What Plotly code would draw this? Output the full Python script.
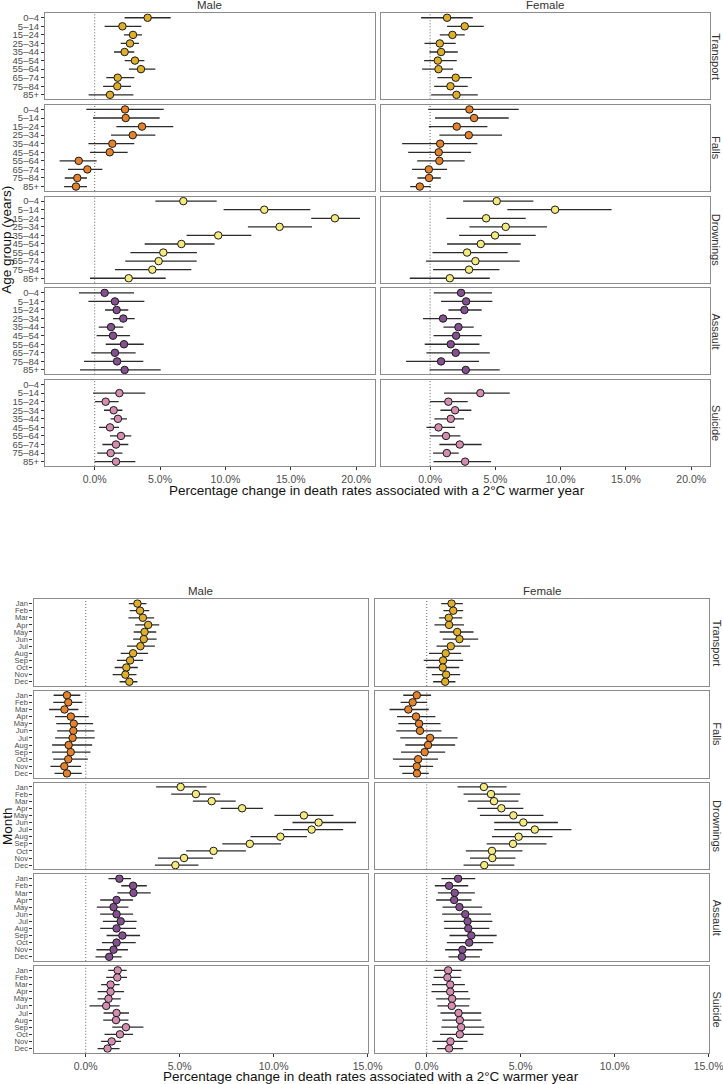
import plotly.graph_objects as go

# ---------------- DATA ----------------
AGE_GROUPS = ["0–4", "5–14", "15–24", "25–34", "35–44", "45–54", "55–64", "65–74", "75–84", "85+"]
MONTHS = ["Jan", "Feb", "Mar", "Apr", "May", "Jun", "Jul", "Aug", "Sep", "Oct", "Nov", "Dec"]
CAUSES = ["Transport", "Falls", "Drownings", "Assault", "Suicide"]
SEXES = ["Male", "Female"]
CAUSE_COLORS = ["#DFAE2B", "#E5822C", "#F5EA7E", "#85508F", "#D68DB2"]

TOP_X_TICKS = [0, 5, 10, 15, 20]
BOTTOM_X_TICKS = [0, 5, 10, 15]

# ---- Age group, male ----
age_m_transport_est = [4.05, 2.12, 2.93, 2.70, 2.29, 3.08, 3.54, 1.76, 1.73, 1.17]
age_m_transport_lo = [2.29, 0.76, 2.24, 1.99, 1.48, 2.29, 2.62, 0.89, 0.64, -0.46]
age_m_transport_hi = [5.81, 3.57, 3.62, 3.39, 3.03, 3.80, 4.64, 3.03, 2.78, 2.96]

age_m_falls_est = [2.32, 2.37, 3.62, 2.91, 1.35, 1.15, -1.22, -0.56, -1.33, -1.43]
age_m_falls_lo = [-0.64, -0.13, 1.66, 1.25, -0.48, -0.36, -2.68, -2.04, -2.29, -2.34]
age_m_falls_hi = [5.28, 4.97, 6.01, 4.64, 3.03, 2.52, 0.15, 0.59, -0.59, -0.59]

age_m_drown_est = [6.78, 12.97, 18.37, 14.14, 9.45, 6.63, 5.25, 4.89, 4.41, 2.60]
age_m_drown_lo = [4.64, 9.86, 16.56, 11.72, 7.03, 3.82, 2.73, 2.34, 1.55, -0.36]
age_m_drown_hi = [9.33, 16.49, 20.29, 16.62, 11.98, 9.17, 7.82, 7.80, 7.39, 5.43]

age_m_assault_est = [0.76, 1.55, 1.68, 2.19, 1.25, 1.40, 2.24, 1.55, 1.71, 2.29]
age_m_assault_lo = [-1.20, -0.48, 0.79, 1.40, 0.31, 0.15, 0.84, -0.25, -0.82, -1.12]
age_m_assault_hi = [3.01, 3.80, 2.57, 3.06, 2.19, 2.70, 3.75, 3.13, 3.72, 5.05]

age_m_suicide_est = [None, 1.89, 0.84, 1.45, 1.78, 1.17, 2.01, 1.63, 1.22, 1.63]
age_m_suicide_lo = [None, -0.13, 0.03, 0.71, 1.22, 0.33, 1.17, 0.59, 0.20, 0.00]
age_m_suicide_hi = [None, 3.87, 1.83, 2.12, 2.47, 1.86, 2.80, 2.57, 2.12, 3.11]

# ---- Age group, female ----
age_f_transport_est = [1.30, 2.65, 1.71, 0.74, 0.84, 0.59, 0.64, 1.96, 1.56, 2.02]
age_f_transport_lo = [-0.69, 1.30, 0.74, -0.43, -0.05, -0.46, -0.61, 0.56, 0.31, 0.08]
age_f_transport_hi = [3.27, 4.11, 2.65, 1.96, 2.12, 2.04, 1.76, 3.19, 2.88, 3.65]

age_f_falls_est = [3.01, 3.37, 2.04, 2.96, 0.77, 0.66, 0.71, -0.10, -0.08, -0.79]
age_f_falls_lo = [-0.15, 0.38, -0.10, 0.71, -2.14, -1.68, -0.99, -1.38, -0.97, -1.53]
age_f_falls_hi = [6.79, 6.02, 4.39, 5.51, 3.62, 3.14, 2.65, 1.30, 0.82, 0.05]

age_f_drown_est = [5.10, 9.57, 4.29, 5.79, 4.97, 3.88, 2.83, 3.47, 2.98, 1.51]
age_f_drown_lo = [2.53, 5.92, 1.25, 3.01, 2.22, 1.30, 0.18, -0.31, 0.23, -1.56]
age_f_drown_hi = [7.91, 13.90, 7.32, 8.95, 8.09, 6.94, 5.94, 6.86, 5.31, 4.57]

age_f_assault_est = [2.37, 2.76, 2.63, 0.99, 2.17, 1.99, 1.58, 1.96, 0.84, 2.73]
age_f_assault_lo = [0.28, 0.84, 1.40, -0.54, 1.02, 0.26, -0.41, -0.28, -1.84, -0.03]
age_f_assault_hi = [4.74, 4.77, 3.95, 2.40, 3.34, 3.95, 3.78, 4.57, 3.75, 5.33]

age_f_suicide_est = [None, 3.85, 1.40, 1.91, 1.58, 0.64, 1.22, 2.27, 1.28, 2.68]
age_f_suicide_lo = [None, 1.07, 0.00, 0.79, 0.33, -0.28, 0.00, 0.71, 0.23, 0.26]
age_f_suicide_hi = [None, 6.10, 2.88, 3.16, 2.60, 1.91, 2.32, 3.95, 2.19, 4.67]

# ---- Month, male ----
mon_m_transport_est = [2.75, 2.89, 3.04, 3.32, 3.13, 3.09, 2.91, 2.52, 2.36, 2.16, 2.11, 2.32]
mon_m_transport_lo = [2.29, 2.34, 2.27, 2.63, 2.55, 2.52, 2.20, 1.86, 1.66, 1.54, 1.43, 1.80]
mon_m_transport_hi = [3.23, 3.38, 3.64, 3.91, 3.75, 3.77, 3.68, 3.32, 3.05, 2.77, 2.70, 2.75]

mon_m_falls_est = [-1.00, -0.93, -1.13, -0.79, -0.64, -0.66, -0.70, -0.91, -0.80, -0.93, -1.14, -1.00]
mon_m_falls_lo = [-1.71, -1.73, -1.95, -1.63, -1.57, -1.52, -1.63, -1.79, -1.79, -1.73, -1.88, -1.66]
mon_m_falls_hi = [-0.29, -0.18, -0.39, 0.16, 0.39, 0.46, 0.48, 0.34, 0.25, 0.11, -0.25, -0.21]

mon_m_drown_est = [5.05, 5.86, 6.70, 8.32, 11.61, 12.39, 12.02, 10.36, 8.73, 6.80, 5.23, 4.77]
mon_m_drown_lo = [3.75, 4.55, 5.70, 7.18, 10.04, 11.00, 10.50, 8.77, 7.27, 5.34, 3.84, 3.68]
mon_m_drown_hi = [6.43, 7.16, 7.98, 9.43, 13.18, 14.38, 13.70, 11.77, 10.39, 8.52, 6.77, 6.00]

mon_m_assault_est = [1.79, 2.52, 2.54, 1.64, 1.48, 1.64, 1.86, 1.64, 1.95, 1.64, 1.48, 1.25]
mon_m_assault_lo = [1.21, 1.89, 1.68, 0.77, 0.59, 0.77, 0.91, 0.77, 1.11, 0.86, 0.57, 0.52]
mon_m_assault_hi = [2.41, 3.25, 3.46, 2.52, 2.27, 2.52, 2.71, 2.68, 2.89, 2.66, 2.25, 1.91]

mon_m_suicide_est = [1.70, 1.68, 1.32, 1.32, 1.21, 1.09, 1.64, 1.61, 2.14, 1.82, 1.38, 1.16]
mon_m_suicide_lo = [1.20, 1.09, 0.82, 0.63, 0.63, 0.20, 0.95, 0.93, 1.41, 1.00, 0.82, 0.63]
mon_m_suicide_hi = [2.18, 2.20, 1.80, 2.04, 1.86, 1.80, 2.30, 2.27, 3.07, 2.52, 1.88, 1.80]

# ---- Month, female ----
mon_f_transport_est = [1.32, 1.41, 1.17, 1.19, 1.62, 1.74, 1.28, 1.01, 0.87, 0.85, 1.03, 0.98]
mon_f_transport_lo = [0.77, 0.89, 0.66, 0.41, 0.69, 0.85, 0.52, 0.12, -0.16, -0.02, 0.27, 0.34]
mon_f_transport_hi = [1.92, 1.94, 1.89, 1.98, 2.49, 2.74, 2.31, 1.83, 1.94, 1.73, 1.78, 1.53]

mon_f_falls_est = [-0.53, -0.75, -0.98, -0.57, -0.41, -0.36, 0.18, 0.07, -0.11, -0.46, -0.53, -0.52]
mon_f_falls_lo = [-1.25, -1.39, -1.98, -1.58, -1.51, -1.62, -1.41, -1.14, -1.37, -1.80, -1.46, -1.30]
mon_f_falls_hi = [0.23, 0.02, 0.11, 0.46, 0.73, 0.78, 1.64, 1.51, 0.98, 0.60, 0.34, 0.11]

mon_f_drown_est = [3.04, 3.42, 3.58, 3.97, 4.61, 5.14, 5.75, 4.89, 4.59, 3.47, 3.49, 3.06]
mon_f_drown_lo = [1.64, 1.96, 2.19, 2.69, 2.83, 3.59, 3.59, 3.47, 3.19, 2.08, 2.30, 1.96]
mon_f_drown_hi = [4.25, 4.98, 4.88, 5.14, 6.21, 6.98, 7.70, 6.69, 6.37, 5.09, 4.72, 4.66]

mon_f_assault_est = [1.67, 1.19, 1.49, 1.46, 1.74, 2.05, 2.17, 2.21, 2.37, 2.26, 1.90, 1.87]
mon_f_assault_lo = [0.78, 0.43, 0.59, 0.50, 0.84, 0.82, 0.91, 0.93, 1.21, 1.07, 0.98, 1.16]
mon_f_assault_hi = [2.58, 2.21, 2.56, 2.38, 2.95, 3.42, 3.49, 3.33, 3.72, 3.54, 2.95, 2.83]

mon_f_suicide_est = [1.14, 1.10, 1.25, 1.25, 1.35, 1.33, 1.69, 1.76, 1.83, 1.76, 1.26, 1.19]
mon_f_suicide_lo = [0.41, 0.36, 0.28, 0.25, 0.50, 0.57, 0.73, 0.82, 0.78, 0.71, 0.30, 0.55]
mon_f_suicide_hi = [1.85, 1.81, 2.03, 2.21, 2.31, 2.26, 2.90, 2.90, 3.06, 3.01, 2.17, 1.94]

AGE_PANELS = {
    "Male": [
        (age_m_transport_est, age_m_transport_lo, age_m_transport_hi),
        (age_m_falls_est, age_m_falls_lo, age_m_falls_hi),
        (age_m_drown_est, age_m_drown_lo, age_m_drown_hi),
        (age_m_assault_est, age_m_assault_lo, age_m_assault_hi),
        (age_m_suicide_est, age_m_suicide_lo, age_m_suicide_hi),
    ],
    "Female": [
        (age_f_transport_est, age_f_transport_lo, age_f_transport_hi),
        (age_f_falls_est, age_f_falls_lo, age_f_falls_hi),
        (age_f_drown_est, age_f_drown_lo, age_f_drown_hi),
        (age_f_assault_est, age_f_assault_lo, age_f_assault_hi),
        (age_f_suicide_est, age_f_suicide_lo, age_f_suicide_hi),
    ],
}
MONTH_PANELS = {
    "Male": [
        (mon_m_transport_est, mon_m_transport_lo, mon_m_transport_hi),
        (mon_m_falls_est, mon_m_falls_lo, mon_m_falls_hi),
        (mon_m_drown_est, mon_m_drown_lo, mon_m_drown_hi),
        (mon_m_assault_est, mon_m_assault_lo, mon_m_assault_hi),
        (mon_m_suicide_est, mon_m_suicide_lo, mon_m_suicide_hi),
    ],
    "Female": [
        (mon_f_transport_est, mon_f_transport_lo, mon_f_transport_hi),
        (mon_f_falls_est, mon_f_falls_lo, mon_f_falls_hi),
        (mon_f_drown_est, mon_f_drown_lo, mon_f_drown_hi),
        (mon_f_assault_est, mon_f_assault_lo, mon_f_assault_hi),
        (mon_f_suicide_est, mon_f_suicide_lo, mon_f_suicide_hi),
    ],
}

# ---------------- LAYOUT ----------------
W, H = 723, 1084
FONT = "Liberation Sans, Arial, Helvetica, sans-serif"
BORDER = "#8c8c8c"
TICKC = "#4d4d4d"

CHARTS = [
    dict(cats=AGE_GROUPS, panels=AGE_PANELS, xticks=TOP_X_TICKS,
         xcols=[(45, 374.5), (380.5, 709.5)], xrange=[-3.8, 21.4],
         top=13.3, ph=86.0, step=91.7, pad=0.52, ytfont=9.5,
         ytitle="Age group (years)", xtitle_y=490, coltitle_y=5, strip_x=716),
    dict(cats=MONTHS, panels=MONTH_PANELS, xticks=BOTTOM_X_TICKS,
         xcols=[(33.5, 368), (374.5, 709)], xrange=[-2.78, 15.02],
         top=599.3, ph=86.7, step=91.7, pad=0.6, ytfont=7.5,
         ytitle="Month", xtitle_y=1076, coltitle_y=591, strip_x=717),
]


def xdom(a, b):
    return [a / W, b / W]


def ydom(a, b):
    return [1 - b / H, 1 - a / H]


fig = go.Figure()
layout_axes = {}
shapes = []
annotations = []
idx = 0
for c, ch in enumerate(CHARTS):
    ncat = len(ch["cats"])
    for r, cause in enumerate(CAUSES):
        py0 = ch["top"] + r * ch["step"]
        py1 = py0 + ch["ph"]
        for s, sex in enumerate(SEXES):
            idx += 1
            xa = "x" if idx == 1 else f"x{idx}"
            ya = "y" if idx == 1 else f"y{idx}"
            xkey = "xaxis" if idx == 1 else f"xaxis{idx}"
            ykey = "yaxis" if idx == 1 else f"yaxis{idx}"
            est, lo, hi = ch["panels"][sex][r]
            plus = [None if e is None else h - e for e, h in zip(est, hi)]
            minus = [None if e is None else e - l for e, l in zip(est, lo)]
            fig.add_trace(go.Scatter(
                x=est, y=ch["cats"], xaxis=xa, yaxis=ya, mode="markers",
                marker=dict(size=7.5, color=CAUSE_COLORS[r],
                            line=dict(color="#1a1a1a", width=1)),
                error_x=dict(type="data", symmetric=False, array=plus,
                             arrayminus=minus, color="#2b2b2b",
                             thickness=1.3, width=0),
                showlegend=False, hoverinfo="skip"))
            bottom_row = r == len(CAUSES) - 1
            xc = ch["xcols"][s]
            layout_axes[xkey] = dict(
                domain=xdom(*xc), range=ch["xrange"], anchor=ya,
                showgrid=False, zeroline=False, showline=True, mirror=True,
                linecolor=BORDER, linewidth=1.2, automargin=False,
                tickmode="array", ticklabeloverflow="allow",
                tickvals=ch["xticks"] if bottom_row else [],
                ticktext=[f"{v:.1f}%" for v in ch["xticks"]] if bottom_row else [],
                ticks="outside" if bottom_row else "", ticklen=3,
                tickcolor="#333333",
                showticklabels=bottom_row,
                tickfont=dict(family=FONT, size=10.5, color=TICKC))
            layout_axes[ykey] = dict(
                domain=ydom(py0, py1), anchor=xa, type="category",
                categoryorder="array", categoryarray=ch["cats"],
                tickmode="array", tickvals=ch["cats"], ticktext=ch["cats"],
                range=[ncat - 1 + ch["pad"], -ch["pad"]],
                showgrid=False, zeroline=False, showline=True, mirror=True,
                linecolor=BORDER, linewidth=1.2, automargin=False,
                ticks="outside" if s == 0 else "", ticklen=3,
                tickcolor="#333333",
                showticklabels=(s == 0),
                tickfont=dict(family=FONT, size=ch["ytfont"], color=TICKC))
            shapes.append(dict(type="line", xref=xa, yref=f"{ya} domain",
                               x0=0, x1=0, y0=0, y1=1, layer="below",
                               line=dict(color="#666666", width=1, dash="1px,2px")))
        # strip label
        annotations.append(dict(
            text=cause, xref="paper", yref="paper",
            x=ch["strip_x"] / W, y=1 - (py0 + ch["ph"] / 2) / H,
            showarrow=False, textangle=90,
            font=dict(family=FONT, size=11, color="#333333"),
            xanchor="center", yanchor="middle"))
    # column titles
    for s, sex in enumerate(SEXES):
        xc = ch["xcols"][s]
        annotations.append(dict(
            text=sex, xref="paper", yref="paper",
            x=(xc[0] + xc[1]) / 2 / W, y=1 - ch["coltitle_y"] / H,
            showarrow=False, xanchor="center", yanchor="middle",
            font=dict(family=FONT, size=11.5, color="#333333")))
    # x title
    annotations.append(dict(
        text="Percentage change in death rates associated with a 2°C warmer year",
        xref="paper", yref="paper",
        x=(ch["xcols"][0][0] + ch["xcols"][1][1]) / 2 / W,
        y=1 - ch["xtitle_y"] / H, showarrow=False,
        xanchor="center", yanchor="middle",
        font=dict(family=FONT, size=13.5, color="#111111")))
    # y title
    ymid = ch["top"] + (4 * ch["step"] + ch["ph"]) / 2
    annotations.append(dict(
        text=ch["ytitle"], xref="paper", yref="paper",
        x=7 / W, y=1 - ymid / H, showarrow=False, textangle=-90,
        xanchor="center", yanchor="middle",
        font=dict(family=FONT, size=13.5, color="#111111")))

fig.update_layout(
    width=W, height=H,
    margin=dict(l=0, r=0, t=0, b=0),
    paper_bgcolor="white", plot_bgcolor="white",
    font=dict(family=FONT),
    shapes=shapes, annotations=annotations,
    **layout_axes)

fig.write_html("out.html", config={"displayModeBar": False},
               post_script="document.body.style.margin='0';document.body.style.overflow='hidden';")
